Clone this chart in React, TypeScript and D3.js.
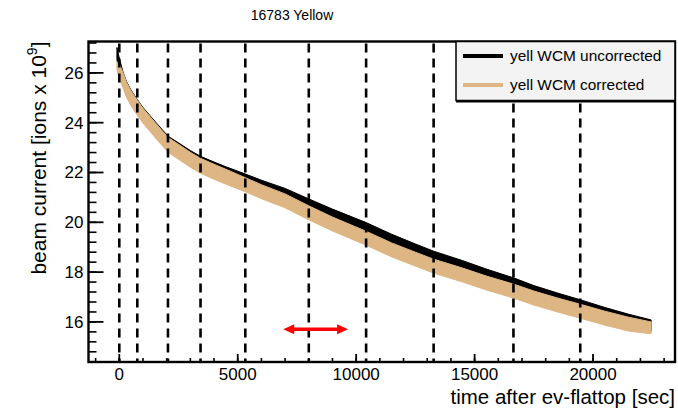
import { useEffect, useRef } from 'react'
import * as d3 from 'd3'

// time after ev-flattop [sec]
const times = [-100, 0, 150, 300, 500, 760, 1000, 1500, 2055, 2500, 3000, 3430, 4000, 4500, 5320, 6000, 7000, 8000, 9000, 10420, 11500, 12500, 13270, 14500, 15500, 16640, 17500, 18500, 19460, 20500, 21500, 22450]

// noisy band of the yell WCM uncorrected trace (high / low edge)
const uncorrHigh = [27.02, 26.6, 26.06, 25.66, 25.3, 24.93, 24.61, 24.06, 23.46, 23.19, 22.88, 22.65, 22.42, 22.23, 21.94, 21.69, 21.36, 20.94, 20.53, 19.99, 19.52, 19.13, 18.84, 18.46, 18.12, 17.77, 17.46, 17.16, 16.89, 16.58, 16.31, 16.08]
const uncorrLow = [26.54, 25.85, 25.5, 25.1, 24.74, 24.37, 24.05, 23.5, 22.9, 22.63, 22.32, 22.09, 21.86, 21.67, 21.38, 21.13, 20.8, 20.38, 19.97, 19.43, 18.96, 18.57, 18.28, 17.9, 17.56, 17.21, 16.9, 16.6, 16.33, 16.02, 15.75, 15.62]

// yell WCM corrected trace
const corrHigh = [26.45, 26.35, 26.03, 25.63, 25.27, 24.9, 24.58, 24.02, 23.41, 23.13, 22.81, 22.57, 22.33, 22.13, 21.79, 21.51, 21.14, 20.66, 20.21, 19.64, 19.17, 18.8, 18.52, 18.16, 17.84, 17.52, 17.24, 16.96, 16.71, 16.43, 16.19, 16.0]
const corrLow = [26.13, 25.75, 25.43, 25.03, 24.67, 24.3, 23.98, 23.42, 22.81, 22.53, 22.21, 21.97, 21.73, 21.53, 21.23, 20.95, 20.58, 20.1, 19.65, 19.08, 18.61, 18.24, 17.96, 17.6, 17.28, 16.96, 16.68, 16.4, 16.15, 15.87, 15.63, 15.52]

// vertical dashed markers
const markTimes = [0, 760, 2055, 3430, 5320, 8000, 10420, 13270, 16640, 19460]

const xTicks = [0, 5000, 10000, 15000, 20000]
const yTicks = [16, 18, 20, 22, 24, 26]

const arrowFrom = 6920
const arrowTo = 9660
const arrowLevel = 15.71

const legendLabels = ['yell WCM uncorrected', 'yell WCM corrected']
const seriesColors = ['#000000', '#ddb684']

const FONT = '"Liberation Sans", Arial, Helvetica, sans-serif'

export default function App() {
  const ref = useRef<SVGSVGElement | null>(null)

  useEffect(() => {
    if (!ref.current) return
    const svg = d3.select(ref.current)
    svg.selectAll('*').remove()

    const width = 678
    const height = 410
    const frame = { left: 88.5, right: 675, top: 41.5, bottom: 362 }

    const x = d3.scaleLinear().domain([-1300, 23460]).range([frame.left, frame.right])
    const y = d3.scaleLinear().domain([14.39, 27.26]).range([frame.bottom, frame.top])

    svg.attr('width', width).attr('height', height)

    svg.append('rect').attr('width', width).attr('height', height).attr('fill', '#ffffff')

    // bands (uncorrected under, corrected on top)
    const bandData = [
      { lo: uncorrLow, hi: uncorrHigh, color: seriesColors[0] },
      { lo: corrLow, hi: corrHigh, color: seriesColors[1] }
    ]
    bandData.forEach(b => {
      const pts = times.map((t, i) => ({ t, lo: b.lo[i], hi: b.hi[i] }))
      const area = d3.area<(typeof pts)[0]>()
        .x(d => x(d.t))
        .y0(d => y(d.lo))
        .y1(d => y(d.hi))
      svg.append('path')
        .datum(pts)
        .attr('d', area)
        .attr('fill', b.color)
        .attr('stroke', b.color)
        .attr('stroke-width', 1)
    })

    // dashed markers
    svg.selectAll('.mark')
      .data(markTimes)
      .enter()
      .append('line')
      .attr('x1', d => x(d))
      .attr('x2', d => x(d))
      .attr('y1', frame.top + 2)
      .attr('y2', frame.bottom)
      .attr('stroke', '#000')
      .attr('stroke-width', 2.6)
      .attr('stroke-dasharray', '9,6')

    // arrow
    const ay = y(arrowLevel)
    const ax0 = x(arrowFrom)
    const ax1 = x(arrowTo)
    svg.append('line')
      .attr('x1', ax0 + 8).attr('x2', ax1 - 8)
      .attr('y1', ay).attr('y2', ay)
      .attr('stroke', '#ff0000')
      .attr('stroke-width', 3.5)
    svg.append('path')
      .attr('d', `M${ax0},${ay} L${ax0 + 11},${ay - 5} L${ax0 + 11},${ay + 5} Z`)
      .attr('fill', '#ff0000')
    svg.append('path')
      .attr('d', `M${ax1},${ay} L${ax1 - 11},${ay - 5} L${ax1 - 11},${ay + 5} Z`)
      .attr('fill', '#ff0000')

    // y ticks (inside)
    const yMinor = d3.range(14.4, 27.25, 0.4)
    svg.selectAll('.yminor')
      .data(yMinor)
      .enter()
      .append('line')
      .attr('x1', frame.left).attr('x2', frame.left + 8)
      .attr('y1', d => y(d)).attr('y2', d => y(d))
      .attr('stroke', '#000').attr('stroke-width', 1.6)
    svg.selectAll('.ymajor')
      .data(yTicks)
      .enter()
      .append('line')
      .attr('x1', frame.left).attr('x2', frame.left + 15)
      .attr('y1', d => y(d)).attr('y2', d => y(d))
      .attr('stroke', '#000').attr('stroke-width', 1.8)
    svg.selectAll('.ylab')
      .data(yTicks)
      .enter()
      .append('text')
      .attr('x', frame.left - 5)
      .attr('y', d => y(d) + 6)
      .attr('text-anchor', 'end')
      .style('font-family', FONT)
      .style('font-size', '17px')
      .text(d => d)

    // x ticks
    const xMinor = d3.range(-1000, 23460, 1000)
    svg.selectAll('.xminor')
      .data(xMinor)
      .enter()
      .append('line')
      .attr('x1', d => x(d)).attr('x2', d => x(d))
      .attr('y1', frame.bottom).attr('y2', frame.bottom - 4)
      .attr('stroke', '#000').attr('stroke-width', 1.6)
    svg.selectAll('.xmajor')
      .data(xTicks)
      .enter()
      .append('line')
      .attr('x1', d => x(d)).attr('x2', d => x(d))
      .attr('y1', frame.bottom).attr('y2', frame.bottom - 8)
      .attr('stroke', '#000').attr('stroke-width', 1.8)
    svg.selectAll('.xlab')
      .data(xTicks)
      .enter()
      .append('text')
      .attr('x', d => x(d))
      .attr('y', frame.bottom + 17.5)
      .attr('text-anchor', 'middle')
      .style('font-family', FONT)
      .style('font-size', '17px')
      .text(d => d)

    // frame
    svg.append('rect')
      .attr('x', frame.left).attr('y', frame.top)
      .attr('width', frame.right - frame.left)
      .attr('height', frame.bottom - frame.top)
      .attr('fill', 'none')
      .attr('stroke', '#000')
      .attr('stroke-width', 2.4)

    // legend
    const lg = { x: 456, y: frame.top, w: frame.right - 456, h: 59 }
    svg.append('rect')
      .attr('x', lg.x).attr('y', lg.y)
      .attr('width', lg.w).attr('height', lg.h)
      .attr('fill', '#f3f3f3')
      .attr('stroke', '#000')
      .attr('stroke-width', 1.5)
    svg.append('line')
      .attr('x1', lg.x).attr('x2', lg.x + lg.w)
      .attr('y1', lg.y + lg.h + 1).attr('y2', lg.y + lg.h + 1)
      .attr('stroke', '#000').attr('stroke-width', 2)
    legendLabels.forEach((label, i) => {
      const ly = 56 + i * 29
      svg.append('line')
        .attr('x1', 463).attr('x2', 503)
        .attr('y1', ly).attr('y2', ly)
        .attr('stroke', seriesColors[i])
        .attr('stroke-width', 4)
      svg.append('text')
        .attr('x', 510).attr('y', ly + 5)
        .style('font-family', FONT)
        .style('font-size', '15.4px')
        .text(label)
    })

    // title
    svg.append('text')
      .attr('x', 292).attr('y', 20)
      .attr('text-anchor', 'middle')
      .style('font-family', FONT)
      .style('font-size', '14px')
      .text('16783 Yellow')

    // axis titles
    svg.append('text')
      .attr('x', frame.right).attr('y', 404)
      .attr('text-anchor', 'end')
      .style('font-family', FONT)
      .style('font-size', '20.5px')
      .text('time after ev-flattop [sec]')

    const yt = svg.append('text')
      .attr('transform', `translate(46,${frame.top}) rotate(-90)`)
      .attr('text-anchor', 'end')
      .style('font-family', FONT)
      .style('font-size', '21px')
    yt.append('tspan').text('beam current [ions x 10')
    yt.append('tspan').attr('dy', -9).style('font-size', '14px').text('9')
    yt.append('tspan').attr('dy', 9).text(']')
  }, [])

  return (
    <svg ref={ref} style={{ position: 'absolute', left: 0, top: 0, display: 'block' }}></svg>
  )
}
